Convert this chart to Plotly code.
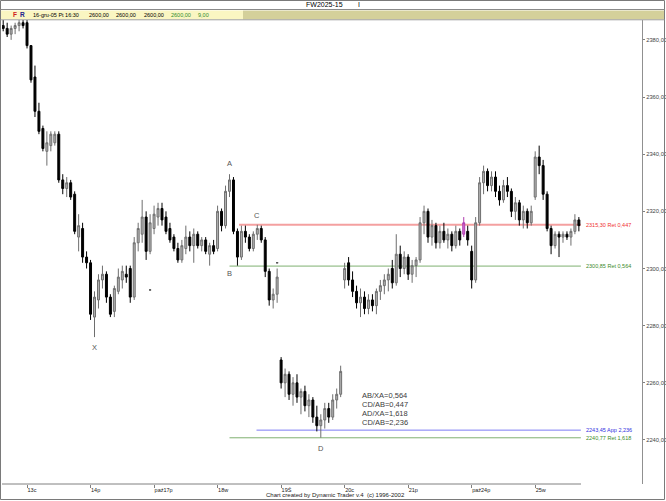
import plotly.graph_objects as go

# ---------------- data ----------------
opens = [2385,2384,2382,2384,2385,2386,2386,2378,2367,2355,2349,2341,2343,2344,2347,2331,2328,2330,2326,2311,
         2314,2304,2302,2283,2289,2296,2298,2290,2285,2292,2296,2298,2300,2290,2309,2312,2318,2306,2314,2318,
         2321,2318,2314,2311,2307,2303,2307,2311,2308,2312,2308,2310,2305,2308,2307,2320,2315,2327,2331,2313,
         2304,2313,2311,2307,2312,2314,2310,2299,2289,2291,2268,2260,2263,2256,2260,2255,2257,2252,2254,2248,
         2245,2247,2251,2248,2254,2256,2296,2302,2296,2292,2288,2290,2286,2289,2287,2292,2294,2296,2300,2295,
         2305,2300,2304,2298,2301,2303,2316,2320,2311,2315,2309,2313,2310,2312,2308,2313,2312,2313,2306,2296,
         2316,2330,2334,2329,2332,2327,2324,2329,2327,2320,2323,2317,2320,2316,2325,2339,2336,2326,2314,2308,
         2312,2311,2312,2311,2313,2317]
highs = [2387,2386,2385,2386,2387,2387,2387,2378,2371,2358,2350,2348,2348,2348,2348,2333,2332,2331,2327,2319,
         2316,2306,2303,2292,2298,2301,2299,2291,2294,2300,2301,2301,2301,2311,2316,2324,2320,2319,2322,2323,
         2323,2320,2316,2312,2309,2310,2315,2313,2314,2313,2311,2311,2309,2310,2322,2321,2329,2333,2332,2314,
         2315,2315,2312,2313,2315.3,2315,2311,2300,2293,2300,2269,2265,2264,2262,2263,2258,2259,2256,2255,2252,
         2249,2253,2253,2256,2258,2266,2302,2304,2299,2294,2293,2292,2291,2291,2293,2296,2298,2300,2303,2312,
         2308,2306,2305,2303,2304,2318,2322,2321,2317,2316,2315,2316,2314,2313,2315,2314,2318,2315,2308,2318,
         2332,2336,2335,2334,2334,2329,2331,2332,2328,2325,2324,2322,2321,2322,2341,2343,2338,2327,2315,2313,
         2313,2313,2313,2314,2319,2318]
lows = [2383,2381,2380,2382,2383,2384,2377,2365,2353,2347,2341,2336,2341,2343,2330,2326,2325,2324,2312,2306,
        2302,2300,2282,2276,2286,2293,2288,2283,2283,2291,2293,2295,2288,2289,2306,2309,2303,2305,2312,2315,
        2315,2312,2309,2306,2302,2302,2305,2306,2302,2307,2306,2305,2301,2305,2306,2313,2314,2325,2312,2301,
        2303,2309,2306,2306,2310,2309,2297,2287,2286,2288,2258,2255,2254,2252,2253,2249,2250,2248,2246,2243,
        2240.8,2244,2246,2247,2251,2255,2293,2294,2290,2286,2283,2284,2284,2285,2284,2289,2291,2292,2293,2294,
        2297,2298,2296,2295,2297,2302,2312,2309,2308,2307,2307,2309,2307,2306,2307,2308,2311,2308,2293,2295,
        2315,2326,2327,2327,2325,2322,2323,2325,2318,2317,2315,2314,2314,2315,2324,2333,2324,2313,2305,2307,
        2304,2309,2310,2308,2312,2313]
closes = [2384,2382,2384,2385,2386,2385,2378,2366,2355,2348,2342,2344,2347,2347,2331,2328,2330,2325,2313,2315,
          2304,2302,2284,2290,2296,2298,2290,2284,2293,2297,2299,2297,2290,2309,2314,2318,2306,2316,2319,2321,
          2317,2313,2310,2307,2303,2308,2311,2308,2312,2308,2310,2306,2308,2306,2320,2315,2327,2331,2313,2304,
          2313,2311,2307,2312,2314,2310,2299,2289,2291,2297,2260,2263,2256,2260,2255,2257,2252,2254,2248,2245,
          2247,2251,2248,2254,2256,2264,2300,2296,2292,2288,2290,2286,2289,2287,2292,2294,2296,2298,2295,2305,
          2300,2304,2298,2301,2303,2316,2320,2311,2315,2309,2313,2310,2312,2308,2313,2310,2316,2310,2296,2316,
          2330,2334,2329,2332,2327,2324,2329,2327,2320,2323,2317,2320,2316,2320,2339,2336,2326,2314,2308,2312,
          2311,2312,2311,2313,2317,2315]
highlight_bar = 116          # bar drawn in magenta
flat_bars_x = [37, 69]       # single-price bars (dashes)
flat_bars_y = [2292.5, 2302]

day_start = [6, 22, 38, 54, 70, 86, 102, 118, 134]
day_labels = ["13c", "14p", "paź17p", "18w", "19Ś", "20c", "21p", "paź24p", "25w"]

y_ticks = [2240, 2260, 2280, 2300, 2320, 2340, 2360, 2380]
y_tick_text = ["2240,00", "2260,00", "2280,00", "2300,00", "2320,00", "2340,00", "2360,00", "2380,00"]

levels = [2315.30, 2300.85, 2243.45, 2240.77]
level_text = ["2315,30 Ret 0,447", "2300,85 Ret 0,564", "2243,45 App 2,236", "2240,77 Ret 1,618"]
level_start = [59.4, 57, 63.8, 57]
level_colors = ["#F4A0A0", "#7FB070", "#7C7CF4", "#7FB070"]
level_text_colors = ["#F03030", "#3A8A2A", "#3030E0", "#3A8A2A"]
level_widths = [2, 1, 1, 1]

pivot_names = ["X", "A", "B", "C", "D"]
pivot_x = [23, 57, 57, 64, 80]
pivot_y = [2276, 2333, 2301, 2315.3, 2240.77]
pivot_shift = [-10, 11, -8, 9, -11]

ratio_lines = ["AB/XA=0,564", "CD/AB=0,447", "AD/XA=1,618", "CD/AB=2,236"]

# ---------------- figure ----------------
W, H = 666, 501
ML, MR, MT, MB = 2, 24, 20, 17
PW, PH = W - ML - MR, H - MT - MB

def px(x):
    return (x - ML) / PW

def py(y):
    return (H - MB - y) / PH

idx = list(range(len(opens)))
main = [i for i in idx if i != highlight_bar]

fig = go.Figure()
fig.add_trace(go.Candlestick(
    x=main, open=[opens[i] for i in main], high=[highs[i] for i in main],
    low=[lows[i] for i in main], close=[closes[i] for i in main],
    increasing=dict(line=dict(color="#6E6E6E", width=1), fillcolor="#B4B4B4"),
    decreasing=dict(line=dict(color="#000000", width=1), fillcolor="#000000"),
    showlegend=False, hoverinfo="skip"))
fig.add_trace(go.Candlestick(
    x=[highlight_bar], open=[opens[highlight_bar]], high=[highs[highlight_bar]],
    low=[lows[highlight_bar]], close=[closes[highlight_bar]],
    increasing=dict(line=dict(color="#B03AB0", width=1), fillcolor="#D070D0"),
    decreasing=dict(line=dict(color="#B03AB0", width=1), fillcolor="#D070D0"),
    showlegend=False, hoverinfo="skip"))
fig.add_trace(go.Candlestick(
    x=flat_bars_x, open=flat_bars_y, high=flat_bars_y, low=flat_bars_y, close=flat_bars_y,
    increasing=dict(line=dict(color="#555555", width=1), fillcolor="#555555"),
    decreasing=dict(line=dict(color="#555555", width=1), fillcolor="#555555"),
    showlegend=False, hoverinfo="skip"))

shapes = []
annotations = []
end_x = len(opens) - 0.5
for lv, st, col, w in zip(levels, level_start, level_colors, level_widths):
    shapes.append(dict(type="line", xref="x", yref="y", x0=st, x1=end_x, y0=lv, y1=lv,
                       line=dict(color=col, width=w), layer="below"))
for lv, txt, col in zip(levels, level_text, level_text_colors):
    annotations.append(dict(xref="paper", yref="y", x=px(584), y=lv, text=txt, showarrow=False,
                            xanchor="left", yanchor="middle", font=dict(size=5.5, color=col)))

for n, xx, yy, sh in zip(pivot_names, pivot_x, pivot_y, pivot_shift):
    annotations.append(dict(xref="x", yref="y", x=xx, y=yy, text=n, showarrow=False, yshift=sh,
                            font=dict(size=7.5, color="#555555")))

for k, t in enumerate(ratio_lines):
    annotations.append(dict(xref="paper", yref="paper", x=px(360), y=py(395 + 9 * k), text=t,
                            showarrow=False, xanchor="left", yanchor="middle",
                            font=dict(size=7.5, color="#3C3C3C")))

# frame, title bar and info bar
shapes += [
    dict(type="rect", xref="paper", yref="paper", x0=px(0.5), x1=px(664.5), y0=py(499.5), y1=py(0.5),
         line=dict(color="#7A7A7A", width=1), layer="above"),
    dict(type="line", xref="paper", yref="paper", x0=px(0.5), x1=px(664.5), y0=py(9.5), y1=py(9.5),
         line=dict(color="#8A8A8A", width=1)),
    dict(type="rect", xref="paper", yref="paper", x0=px(1), x1=px(243), y0=py(19.5), y1=py(10.5),
         fillcolor="#FAF6C2", line=dict(width=0)),
    dict(type="rect", xref="paper", yref="paper", x0=px(243), x1=px(664), y0=py(19.5), y1=py(10.5),
         fillcolor="#D4D09A", line=dict(width=0)),
    dict(type="line", xref="paper", yref="paper", x0=px(0.5), x1=px(664.5), y0=py(19.8), y1=py(19.8),
         line=dict(color="#A0A0A0", width=1)),
    dict(type="line", xref="paper", yref="paper", x0=px(2), x1=px(581), y0=0, y1=0,
         line=dict(color="#808080", width=1)),
]

annotations += [
    dict(xref="paper", yref="paper", x=px(324), y=py(4.5), text="FW2025-15", showarrow=False,
         xanchor="center", yanchor="middle", font=dict(size=7, color="#000000")),
    dict(xref="paper", yref="paper", x=px(359), y=py(4.5), text="I", showarrow=False,
         xanchor="center", yanchor="middle", font=dict(size=7, color="#000000")),
    dict(xref="paper", yref="paper", x=px(11), y=py(15), text="<b>F</b>", showarrow=False,
         xanchor="left", yanchor="middle", font=dict(size=6.5, color="#D02020")),
    dict(xref="paper", yref="paper", x=px(18), y=py(15), text="<b>R</b>", showarrow=False,
         xanchor="left", yanchor="middle", font=dict(size=6.5, color="#202090")),
    dict(xref="paper", yref="paper", x=px(31), y=py(15), text="16-gru-05 Pt 16:30", showarrow=False,
         xanchor="left", yanchor="middle", font=dict(size=5.5, color="#000000")),
]
info_vals = ["2600,00", "2600,00", "2600,00", "2600,00", "9,00"]
info_x = [87, 114, 142, 169, 196]
info_col = ["#000000", "#000000", "#000000", "#2E8B2E", "#2E8B2E"]
for t, xx, c in zip(info_vals, info_x, info_col):
    annotations.append(dict(xref="paper", yref="paper", x=px(xx), y=py(15), text=t, showarrow=False,
                            xanchor="left", yanchor="middle", font=dict(size=5.5, color=c)))
annotations.append(dict(xref="paper", yref="paper", x=px(264), y=py(494.5),
                        text="Chart created by Dynamic Trader v.4  (c) 1996-2002", showarrow=False,
                        xanchor="left", yanchor="middle", font=dict(size=6, color="#202020")))

fig.update_layout(
    width=W, height=H, margin=dict(l=ML, r=MR, t=MT, b=MB, autoexpand=False),
    paper_bgcolor="white", plot_bgcolor="white",
    font=dict(family="Liberation Sans, Arial, sans-serif"),
    shapes=shapes, annotations=annotations, showlegend=False,
    xaxis=dict(range=[-0.302, 160.9], rangeslider=dict(visible=False), showgrid=False, zeroline=False,
               showline=False, tickmode="array", tickvals=day_start, ticktext=day_labels,
               ticks="outside", ticklen=3, tickcolor="#808080", ticklabelposition="outside right",
               tickfont=dict(size=5.5, color="#202020"), fixedrange=True, automargin=False),
    yaxis=dict(range=[2224.6, 2386.95], side="right", showgrid=False, zeroline=False,
               showline=True, linecolor="#909090", linewidth=1, mirror=False,
               tickmode="array", tickvals=y_ticks, ticktext=y_tick_text,
               ticks="outside", ticklen=2, tickcolor="#808080", ticklabelstandoff=0,
               tickfont=dict(size=5.8, color="#444444"), fixedrange=True, automargin=False),
)

fig.write_html("out.html", config={"displayModeBar": False},
               post_script="document.body.style.margin='0';document.body.style.padding='0';"
                           "document.documentElement.style.overflow='hidden';")
